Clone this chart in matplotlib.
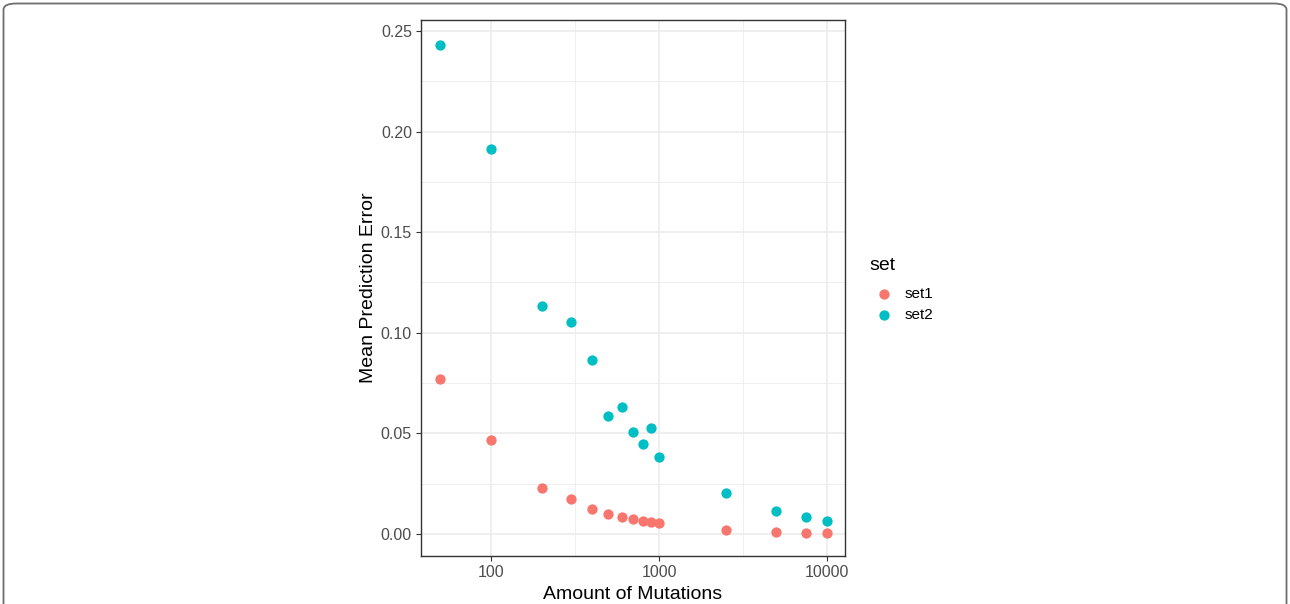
import numpy as np
import matplotlib
matplotlib.use('Agg')
import matplotlib.pyplot as plt
from matplotlib.patches import FancyBboxPatch
from matplotlib.ticker import FixedLocator, NullFormatter

plt.rcParams['font.family'] = ['Liberation Sans', 'DejaVu Sans']

# data
mutations = [50, 100, 200, 300, 400, 500, 600, 700, 800, 900, 1000, 2500, 5000, 7500, 10000]
set1 = [0.077, 0.0469, 0.0230, 0.0172, 0.0126, 0.0098, 0.0086, 0.0074, 0.0066, 0.0058,
        0.0052, 0.0021, 0.0009, 0.0006, 0.0005]
set2 = [0.243, 0.1913, 0.1133, 0.1054, 0.0865, 0.0588, 0.0630, 0.0507, 0.0446, 0.0525,
        0.0380, 0.0204, 0.0116, 0.0085, 0.0065]
set_names = ['set1', 'set2']
set_colors = ['#F8766D', '#00BFC4']
y_ticks = [0.00, 0.05, 0.10, 0.15, 0.20, 0.25]
x_ticks = [100, 1000, 10000]

W, H = 1290, 604
fig = plt.figure(figsize=(W / 100, H / 100), dpi=100)

# panel in pixel coords: left 421, right 845, top 20, bottom 556
ax = fig.add_axes([421 / W, 1 - 556 / H, (845 - 421) / W, (556 - 20) / H])

for vals, name, col in zip([set1, set2], set_names, set_colors):
    ax.scatter(mutations, vals, s=55, color=col, label=name, zorder=3, linewidths=0)

ax.set_xscale('log')
ax.set_xlim(38.3, 12800)
ax.set_ylim(-0.011, 0.2555)

ax.xaxis.set_major_locator(FixedLocator(x_ticks))
ax.xaxis.set_minor_locator(FixedLocator([10 ** 2.5, 10 ** 3.5]))
ax.xaxis.set_minor_formatter(NullFormatter())
ax.set_xticklabels([str(v) for v in x_ticks])
ax.yaxis.set_major_locator(FixedLocator(y_ticks))
ax.yaxis.set_minor_locator(FixedLocator([0.025, 0.075, 0.125, 0.175, 0.225]))
ax.set_yticklabels([f'{v:.2f}' for v in y_ticks])

ax.grid(which='major', color='#EBEBEB', linewidth=1.1, zorder=0)
ax.grid(which='minor', color='#EBEBEB', linewidth=0.55, zorder=0)
ax.set_axisbelow(True)
ax.tick_params(which='major', length=3.5, width=0.8, color='#333333',
               labelsize=11.5, labelcolor='#4D4D4D', pad=3)
ax.tick_params(which='minor', length=0)
for sp in ax.spines.values():
    sp.set_color('#333333')
    sp.set_linewidth(1.0)

ax.set_xlabel('Amount of Mutations', fontsize=14, labelpad=4)
ax.set_ylabel('Mean Prediction Error', fontsize=14, labelpad=3)

leg = ax.legend(title='set', loc='upper left', bbox_to_anchor=(1.024, 0.583),
                frameon=False, fontsize=11, title_fontsize=14,
                handletextpad=0.3, labelspacing=0.45, borderaxespad=0.5,
                markerscale=1.0)
leg._legend_box.align = 'left'
leg._legend_box.sep = 9

# outer rounded frame, open at the bottom of the crop
frame = FancyBboxPatch((3.5 / W, -0.1), (W - 7) / W, 1 - 3.5 / H + 0.1,
                       boxstyle='round,pad=0,rounding_size=0.01',
                       transform=fig.transFigure, fill=False,
                       edgecolor='#6E6E6E', linewidth=1.3, clip_on=False)
fig.patches.append(frame)

fig.savefig('out.png', dpi=100)
